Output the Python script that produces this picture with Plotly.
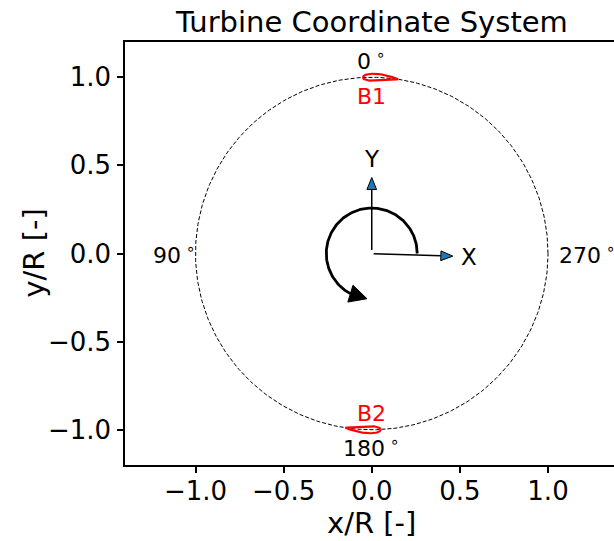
import numpy as np
import plotly.graph_objects as go

# ---- geometry / data -------------------------------------------------------
R = 1.0                      # rotor radius (normalised)
chord = 0.2                  # blade chord c/R
thickness = 0.2              # NACA 00xx thickness ratio
blade_names = ["B1", "B2"]
blade_azimuth_deg = [90.0, 270.0]        # math angle of blade quarter-chord
blade_label_y = [0.89, -0.905]

azimuth_labels = ["0<sup> ∘</sup>", "90<sup> ∘</sup>", "180<sup> ∘</sup>", "270<sup> ∘</sup>"]
azimuth_label_x = [0.0, -1.12, 0.0, 1.225]
azimuth_label_y = [1.10, 0.0, -1.10, 0.0]

# coordinate-axis arrows: start point, tip point
axis_names = ["X", "Y"]
axis_start = [(0.011, -0.002), (0.0, 0.02)]
axis_tip = [(0.46, -0.015), (0.0, 0.431)]
axis_label_pos = [(0.55, -0.02), (0.0, 0.535)]
head_len = 0.068
head_w = 0.055

# rotation-direction arc
arc_radius = 0.258
arc_start_deg = 0.0
arc_end_deg = 242.0
arc_head_tip_deg = 264.0
arc_head_w = 0.1

x_ticks = [-1.0, -0.5, 0.0, 0.5, 1.0]
y_ticks = [-1.0, -0.5, 0.0, 0.5, 1.0]

FONT = "DejaVu Sans"
fig = go.Figure()

# rotor path
th = np.linspace(0, 2 * np.pi, 400)
fig.add_trace(go.Scatter(x=R * np.cos(th), y=R * np.sin(th), mode="lines",
                         line=dict(color="black", width=1, dash="4px,2px"),
                         hoverinfo="skip", showlegend=False))


def naca_half(s, t):
    return 5 * t * (0.2969 * np.sqrt(s) - 0.1260 * s - 0.3516 * s**2
                    + 0.2843 * s**3 - 0.1036 * s**4)


# blades, bent along the rotor circle
s = (1 - np.cos(np.linspace(0, np.pi, 80))) / 2
for name, az, ly in zip(blade_names, blade_azimuth_deg, blade_label_y):
    yt = naca_half(s, thickness) * chord
    ss = np.concatenate([s, s[::-1]])
    tt = np.concatenate([yt, -yt[::-1]])
    phi = np.radians(az) + (0.25 - ss) * chord / R
    rr = R + tt
    fig.add_trace(go.Scatter(x=rr * np.cos(phi), y=rr * np.sin(phi), mode="lines",
                             line=dict(color="red", width=2.2),
                             hoverinfo="skip", showlegend=False))
    fig.add_annotation(x=0, y=ly, text=name, showarrow=False,
                       font=dict(family=FONT, size=22, color="red"))

# azimuth labels
for txt, x, y in zip(azimuth_labels, azimuth_label_x, azimuth_label_y):
    fig.add_annotation(x=x, y=y, text=txt, showarrow=False,
                       font=dict(family=FONT, size=22, color="black"))

# coordinate axes arrows
for name, p0, p1, lp in zip(axis_names, axis_start, axis_tip, axis_label_pos):
    p0 = np.array(p0); p1 = np.array(p1)
    d = (p1 - p0) / np.linalg.norm(p1 - p0)
    n = np.array([-d[1], d[0]])
    base = p1 - head_len * d
    fig.add_trace(go.Scatter(x=[p0[0], base[0]], y=[p0[1], base[1]], mode="lines",
                             line=dict(color="black", width=1.5),
                             hoverinfo="skip", showlegend=False))
    tri = np.array([base + n * head_w / 2, p1, base - n * head_w / 2, base + n * head_w / 2])
    fig.add_trace(go.Scatter(x=tri[:, 0], y=tri[:, 1], mode="lines", fill="toself",
                             fillcolor="#1f77b4", line=dict(color="black", width=1),
                             hoverinfo="skip", showlegend=False))
    fig.add_annotation(x=lp[0], y=lp[1], text=name, showarrow=False,
                       font=dict(family=FONT, size=23, color="black"))

# rotation arc with arrow head
ta = np.radians(np.linspace(arc_start_deg, arc_end_deg, 200))
fig.add_trace(go.Scatter(x=arc_radius * np.cos(ta), y=arc_radius * np.sin(ta), mode="lines",
                         line=dict(color="black", width=2.8),
                         hoverinfo="skip", showlegend=False))
b = arc_radius * np.array([np.cos(np.radians(arc_end_deg)), np.sin(np.radians(arc_end_deg))])
tip = arc_radius * np.array([np.cos(np.radians(arc_head_tip_deg)), np.sin(np.radians(arc_head_tip_deg))])
d = (tip - b) / np.linalg.norm(tip - b)
n = np.array([-d[1], d[0]])
head = np.array([b + n * arc_head_w / 2, tip, b - n * arc_head_w / 2, b + n * arc_head_w / 2])
fig.add_trace(go.Scatter(x=head[:, 0], y=head[:, 1], mode="lines", fill="toself",
                         fillcolor="black", line=dict(color="black", width=1),
                         hoverinfo="skip", showlegend=False))

# title and axis labels
fig.add_annotation(x=0, y=1, xref="x", yref="paper", yanchor="bottom", yshift=1,
                   text="Turbine Coordinate System", showarrow=False,
                   font=dict(family=FONT, size=29, color="black"))
fig.add_annotation(x=0, y=0, xref="x", yref="paper", yanchor="top", yshift=-39,
                   text="x/R [-]", showarrow=False,
                   font=dict(family=FONT, size=29, color="black"))
fig.add_annotation(x=-0.188, y=0.5, xref="paper", yref="paper", xanchor="center",
                   yanchor="middle", textangle=-90,
                   text="y/R [-]", showarrow=False,
                   font=dict(family=FONT, size=29, color="black"))

W, H = 614, 541
ml, mr, mt, mb = 125, 0, 42, 76
px_per_unit = (H - mt - mb) / 2.4
x_hi = -1.4 + (W - ml - mr) / px_per_unit

axis_common = dict(showgrid=False, zeroline=False, showline=True, linecolor="black",
                   linewidth=1.5, ticks="outside", ticklen=6, tickwidth=1.5,
                   tickcolor="black", tickformat=".1f",
                   tickfont=dict(family=FONT, size=26, color="black"))
fig.update_layout(
    width=W, height=H, margin=dict(l=ml, r=mr, t=mt, b=mb),
    plot_bgcolor="white", paper_bgcolor="white", showlegend=False,
    xaxis=dict(range=[-1.4, x_hi], tickvals=x_ticks, mirror=True,
               ticklabelstandoff=-4, **axis_common),
    yaxis=dict(range=[-1.2, 1.2], tickvals=y_ticks, ticklabelstandoff=1, **axis_common),
)

fig.write_html("out.html")
